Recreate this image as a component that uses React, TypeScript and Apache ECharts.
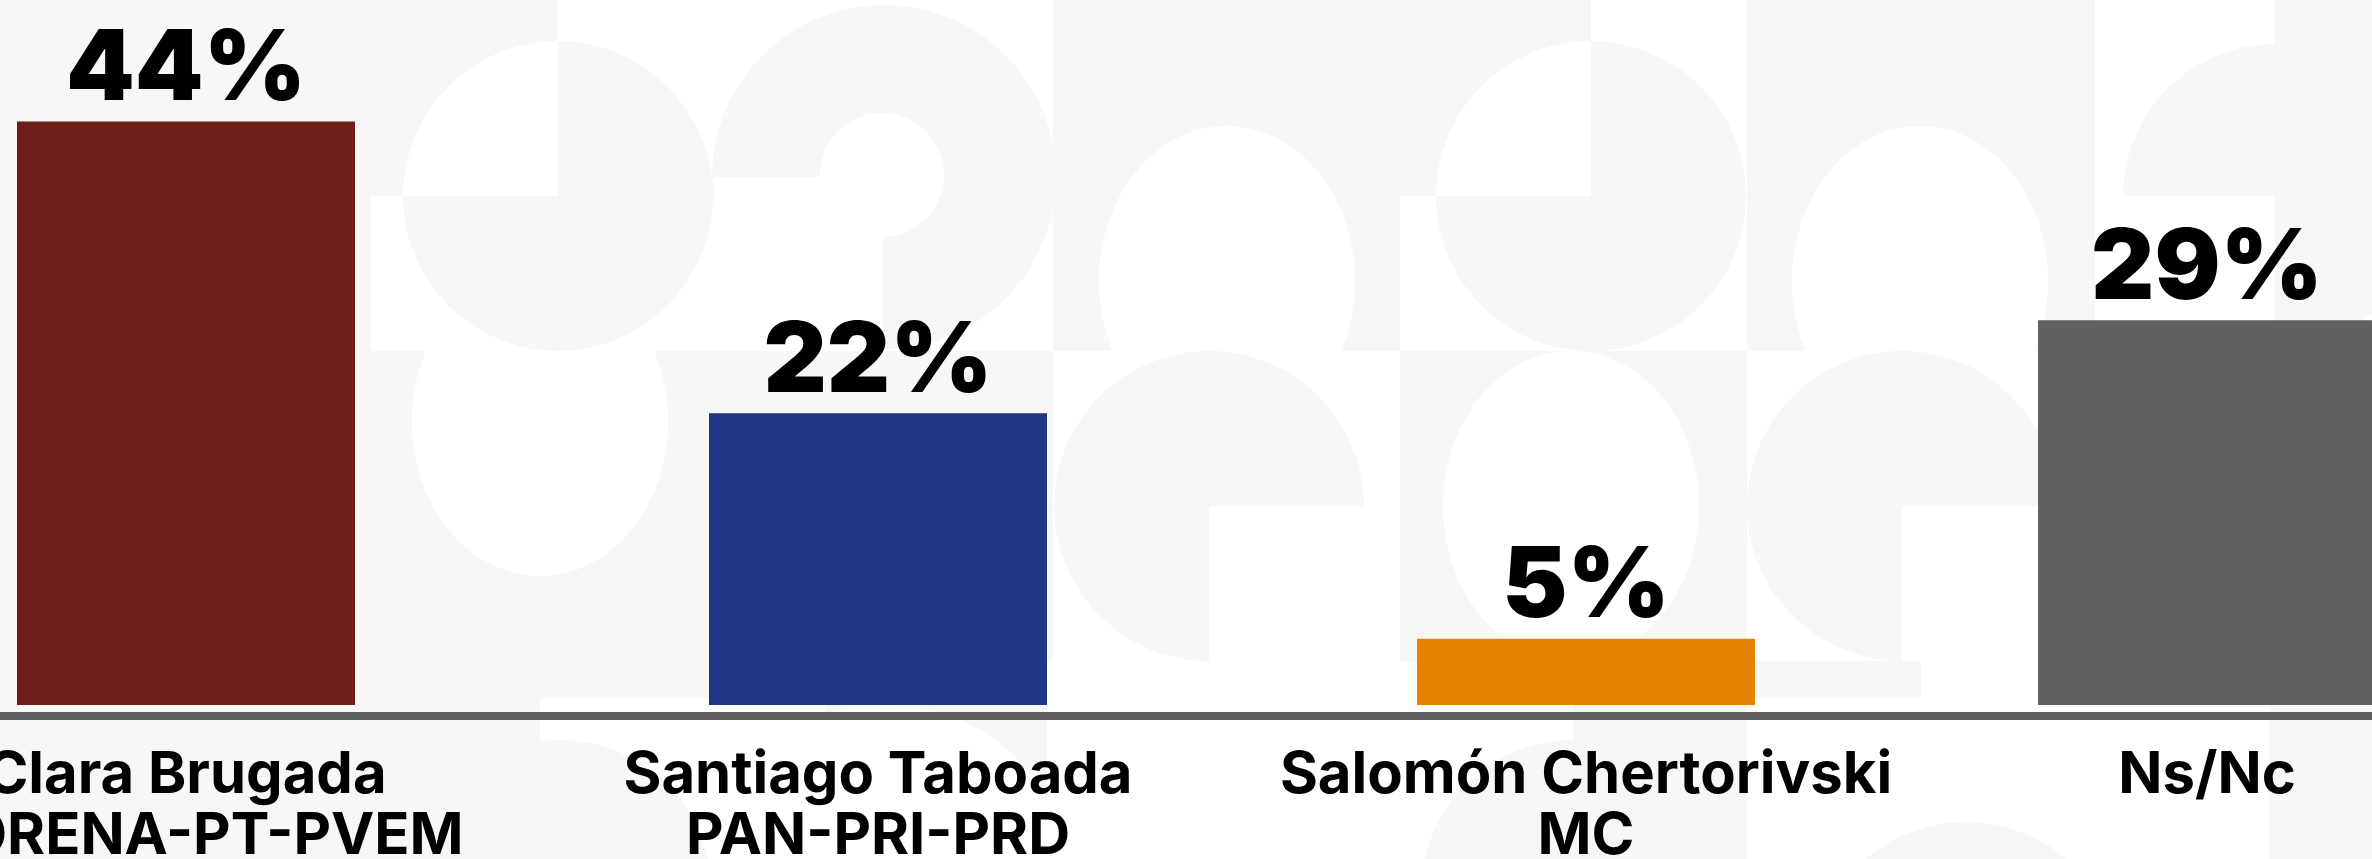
import React, { useEffect, useRef } from "react";
import * as echarts from "echarts";

// ---- data ----
const CATEGORIES: string[] = [
  "Clara Brugada\nMORENA-PT-PVEM",
  "Santiago Taboada\nPAN-PRI-PRD",
  "Salomón Chertorivski\nMC",
  "Ns/Nc",
];
const VALUES: number[] = [44, 22, 5, 29];
const COLORS: string[] = ["#6E1D18", "#1F3784", "#E68200", "#616161"];

// ---- layout (pixels) ----
const CENTERS = [186, 878, 1586, 2207];
const HALF = 345;
const BAR_WIDTH = 338;
const Y_MAX = 53;

// ---- decorative background pattern (style only) ----
const G = "#f7f7f7";
const W = "#ffffff";
const rect = (x: number, y: number, w: number, h: number, fill: string) => ({
  type: "rect", silent: true, z: -10, shape: { x, y, width: w, height: h }, style: { fill },
});
const circ = (cx: number, cy: number, r: number, fill: string) => ({
  type: "circle", silent: true, z: -10, shape: { cx, cy, r }, style: { fill },
});
const ell = (cx: number, cy: number, rx: number, ry: number, fill: string) => ({
  type: "ellipse", silent: true, z: -10, shape: { cx, cy, rx, ry }, style: { fill },
});
const sect = (cx: number, cy: number, r: number, a0: number, a1: number, fill: string) => ({
  type: "sector", silent: true, z: -10,
  shape: { cx, cy, r, r0: 0, startAngle: a0, endAngle: a1, clockwise: true },
  style: { fill },
});
const PI = Math.PI;

function pattern() {
  return [
    // left column
    rect(0, 0, 371, 705, G),
    // tile h (row 2)
    rect(371, 351, 343, 354, G),
    ell(540, 421, 128, 155, W),
    // tile b (row 1)
    rect(371, 0, 343, 351, W),
    rect(371, 0, 187, 196, G),
    circ(558, 196, 155, G),
    sect(558, 196, 155, PI, 1.5 * PI, W),
    // tile c
    rect(714, 0, 339, 351, W),
    circ(884, 177, 172, G),
    rect(714, 177, 168, 174, W),
    circ(882, 175, 62, W),
    // tile i
    rect(714, 351, 339, 354, G),
    // tile d
    rect(1053, 0, 347, 351, G),
    ell(1227, 281, 128, 155, W),
    // tile j
    rect(1053, 351, 347, 310, W),
    circ(1209, 506, 155, G),
    rect(1209, 506, 191, 155, W),
    // tile e
    rect(1400, 0, 347, 351, W),
    rect(1400, 0, 191, 196, G),
    circ(1591, 196, 155, G),
    sect(1591, 196, 155, PI, 1.5 * PI, W),
    // tile k
    rect(1400, 351, 347, 310, G),
    ell(1571, 506, 128, 155, W),
    // tile f
    rect(1747, 0, 348, 351, G),
    ell(1920, 281, 128, 155, W),
    // tile l
    rect(1747, 351, 348, 310, W),
    circ(1902, 506, 155, G),
    rect(1902, 506, 193, 155, W),
    // tile g
    rect(2095, 0, 277, 351, W),
    circ(2275, 196, 152, G),
    rect(2275, 0, 97, 196, G),
    rect(2095, 196, 180, 155, W),
    rect(2095, 351, 277, 354, G),
    // bottom row
    rect(0, 661, 540, 198, G),
    rect(540, 698, 285, 161, W),
    circ(560, 892, 152, G),
    rect(825, 698, 222, 161, G),
    ell(885, 860, 174, 155, W),
    rect(1047, 661, 370, 37, W),
    rect(1417, 661, 504, 37, G),
    rect(1921, 661, 118, 37, W),
    rect(1047, 698, 526, 161, W),
    circ(1573, 892, 152, G),
    rect(1573, 698, 174, 161, G),
    rect(1747, 698, 522, 161, W),
    circ(1966, 977, 155, G),
    rect(2269, 698, 103, 161, G),
  ];
}

export default function App() {
  const ref = useRef<HTMLDivElement>(null);

  useEffect(() => {
    document.body.style.margin = "0";
    const chart = echarts.init(ref.current!, null, { renderer: "svg" });

    const grid = CENTERS.map((c) => ({
      left: c - HALF,
      width: HALF * 2,
      top: 2,
      bottom: 154,
      containLabel: false,
      outerBoundsMode: "none",
    }));

    const xAxis = CATEGORIES.map((cat, i) => ({
      type: "category",
      gridIndex: i,
      data: [cat],
      axisLine: { show: false },
      axisTick: { show: false },
      splitLine: { show: false },
      axisLabel: {
        interval: 0,
        margin: 36,
        color: "#000",
        fontFamily: "Inter",
        fontWeight: 700,
        fontSize: 58,
        lineHeight: 61,
        align: "center",
        hideOverlap: false,
      },
    }));

    const yAxis = CATEGORIES.map((_, i) => ({
      type: "value",
      gridIndex: i,
      min: 0,
      max: Y_MAX,
      show: false,
    }));

    const series = CATEGORIES.map((cat, i) => ({
      type: "bar",
      name: cat,
      xAxisIndex: i,
      yAxisIndex: i,
      barWidth: BAR_WIDTH,
      z: 5,
      data: [{ value: VALUES[i], itemStyle: { color: COLORS[i] } }],
      label: {
        show: true,
        position: "top",
        distance: 8,
        formatter: "{c}%",
        fontFamily: "Inter",
        fontWeight: 900,
        fontSize: 98,
        lineHeight: 98,
        color: "#000",
      },
    }));

    chart.setOption({
      animation: false,
      backgroundColor: "#ffffff",
      grid,
      xAxis,
      yAxis,
      series,
      graphic: [
        ...pattern(),
        {
          type: "rect",
          silent: true,
          z: 10,
          shape: { x: 0, y: 712, width: 2372, height: 8 },
          style: { fill: "#616161" },
        },
      ],
    });

    return () => chart.dispose();
  }, []);

  return <div ref={ref} style={{ width: 2372, height: 859, overflow: "hidden" }} />;
}
